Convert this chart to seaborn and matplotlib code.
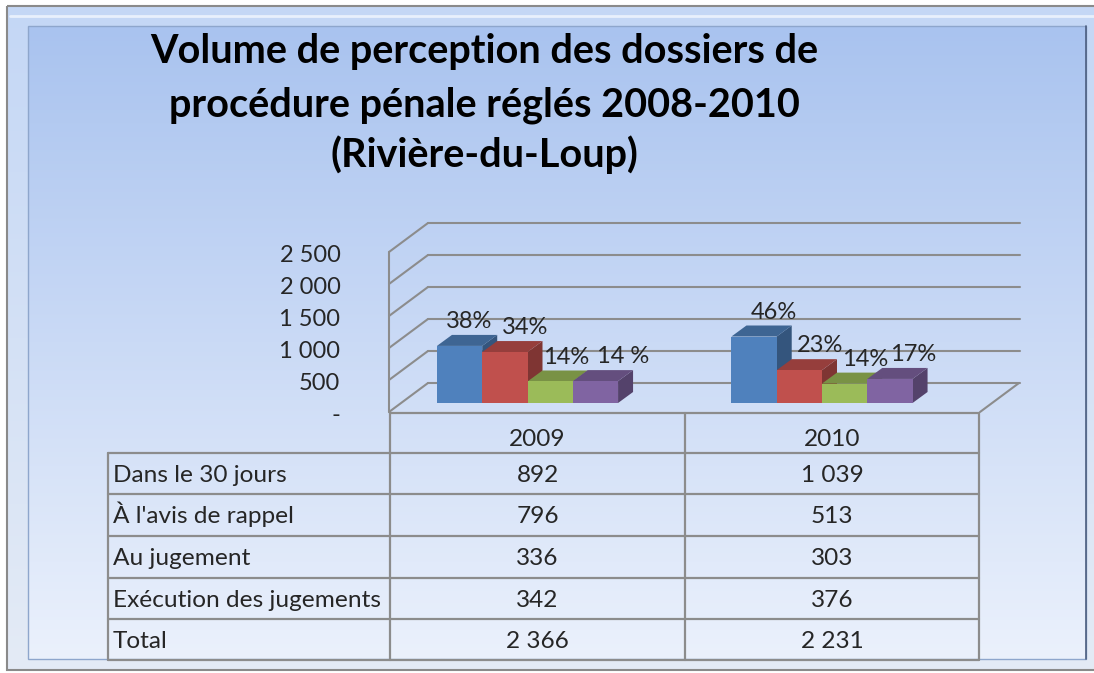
import numpy as np
import pandas as pd
import matplotlib
matplotlib.use("Agg")
import matplotlib.pyplot as plt
import matplotlib.transforms as mtrans
from matplotlib.patches import Polygon, Rectangle
import seaborn as sns

# Data
years = ["2009", "2010"]
categories = ["Dans le 30 jours", "À l'avis de rappel", "Au jugement", "Exécution des jugements"]
values_2009 = [892, 796, 336, 342]
values_2010 = [1039, 513, 303, 376]
totals = [2366, 2231]
pct_2009 = ["38%", "34%", "14%", "14 %"]
pct_2010 = ["46%", "23%", "14%", "17%"]
y_ticks = [0, 500, 1000, 1500, 2000, 2500]
title_lines = ["Volume de perception des dossiers de",
               "procédure pénale réglés 2008-2010",
               "(Rivière-du-Loup)"]
colors = ["#4F81BD", "#C0504D", "#9BBB59", "#8064A2"]

W, H = 1094, 673
sns.set_theme(style="white")
plt.rcParams["font.family"] = ["Lato", "DejaVu Sans"]

df = pd.DataFrame({
    "year": np.repeat(years, len(categories)),
    "category": categories * len(years),
    "value": values_2009 + values_2010,
})


def fmt(v):
    return "-" if v == 0 else f"{v:,}".replace(",", " ")


def px_box(x0, y0, x1, y1):
    return [x0 / W, 1 - y1 / H, (x1 - x0) / W, (y1 - y0) / H]


def shade(c, f):
    r, g, b = matplotlib.colors.to_rgb(c)
    return (r * f, g * f, b * f)


fig = plt.figure(figsize=(W / 100, H / 100), dpi=100)
fig.patch.set_facecolor("white")

# background in pixel coordinates
bg = fig.add_axes([0, 0, 1, 1])
bg.set_xlim(0, W)
bg.set_ylim(H, 0)
bg.axis("off")

def vgrad(top, bottom, n=256):
    t = np.linspace(0, 1, n)[:, None, None]
    a = np.array(matplotlib.colors.to_rgb(top))[None, None, :]
    b = np.array(matplotlib.colors.to_rgb(bottom))[None, None, :]
    return a * (1 - t) + b * t

# bevelled frame
bg.imshow(vgrad("#c4d7f6", "#e4ebf5"), extent=[7, 1110, 670, 6], aspect="auto", origin="upper", zorder=0)
bg.add_patch(Rectangle((7, 6), 1110, 664, fill=False, ec="#8a8a8a", lw=1.5, zorder=1))
bg.plot([10, 1100], [16, 16], color="#e8f0fc", lw=2, zorder=1)
# inner panel
bg.imshow(vgrad("#a9c3ef", "#ebf1fc"), extent=[28, 1086, 659, 26], aspect="auto", origin="upper", zorder=1)
bg.add_patch(Rectangle((28, 26), 1058, 633, fill=False, ec="#8ea6cc", lw=1, zorder=2))
bg.plot([1086, 1086], [26, 659], color="#4d5f80", lw=1.2, zorder=2)

for i, line in enumerate(title_lines):
    bg.text(484, [63, 116, 167][i], line, ha="center", va="baseline",
            fontsize=28.5, fontweight="bold", color="black", zorder=5)

# data table under the chart
grid_c = "#8c8c8c"
col_x = [108, 390, 685, 979]
row_y = [413, 453, 494, 536, 578, 619, 660]
for y in row_y[1:]:
    bg.plot([col_x[0], col_x[-1]], [y, y], color=grid_c, lw=1.6, zorder=5)
bg.plot([col_x[1], col_x[-1]], [row_y[0], row_y[0]], color=grid_c, lw=1.6, zorder=5)
bg.plot([col_x[0], col_x[0]], [row_y[1], row_y[-1]], color=grid_c, lw=1.6, zorder=5)
for x in col_x[1:]:
    bg.plot([x, x], [row_y[0], row_y[-1]], color=grid_c, lw=1.6, zorder=5)

tfs = 17.6
for j, yr in enumerate(years):
    cx = (col_x[j + 1] + col_x[j + 2]) / 2
    bg.text(cx, 446, yr, ha="center", va="baseline", fontsize=tfs, zorder=6)
rows = categories + ["Total"]
vals = [values_2009 + [totals[0]], values_2010 + [totals[1]]]
for i, name in enumerate(rows):
    base = row_y[i + 1] + 29
    bg.text(113, base, name, ha="left", va="baseline", fontsize=tfs, zorder=6)
    for j in range(len(years)):
        cx = (col_x[j + 1] + col_x[j + 2]) / 2
        bg.text(cx, base, fmt(vals[j][i]), ha="center", va="baseline", fontsize=tfs, zorder=6)

# 3D-looking bar chart: front plane of bars, 500 units = 32 px
ax = fig.add_axes(px_box(389, 243, 1020, 403))
ax.set_facecolor("none")
sns.barplot(data=df, x="year", y="value", hue="category", hue_order=categories,
            palette=colors, saturation=1, width=0.615, linewidth=0,
            legend=False, ax=ax)
x_lo, x_hi = -(527.5 - 389) / 294.5, (1020 - 527.5) / 294.5
ax.set_xlim(x_lo, x_hi)
ax.set_ylim(0, 2500)
kx = 1 / 294.5          # data units per pixel
ky = 2500 / 160

# walls and gridlines
wall_c = "#8c8c8c"
for v in y_ticks:
    ax.plot([x_lo + 39 * kx, x_hi], [v + 20 * ky] * 2, color=wall_c, lw=1.5, clip_on=False, zorder=1)
    ax.plot([x_lo, x_lo + 39 * kx], [v - 9 * ky, v + 20 * ky], color=wall_c, lw=1.5, clip_on=False, zorder=1)
ax.plot([x_lo, x_lo], [-9 * ky, 2500 - 9 * ky], color=wall_c, lw=1.5, clip_on=False, zorder=1)
fr = x_lo + 591 * kx
ax.plot([fr, fr + 39 * kx], [-9 * ky, 20 * ky], color=wall_c, lw=1.5, clip_on=False, zorder=1)

# depth faces
ddx, ddy = 15 * kx, 11 * ky
bars = sorted(ax.patches, key=lambda p: p.get_x())
for i, p in enumerate(bars):
    x, w, h = p.get_x(), p.get_width(), p.get_height()
    c = p.get_facecolor()
    p.set_zorder(11 + 2 * i)
    ax.add_patch(Polygon([(x + w, 0), (x + w + ddx, ddy), (x + w + ddx, h + ddy), (x + w, h)],
                         closed=True, fc=shade(c, 0.66), ec="none", zorder=10 + 2 * i, clip_on=False))
    ax.add_patch(Polygon([(x, h), (x + w, h), (x + w + ddx, h + ddy), (x + ddx, h + ddy)],
                         closed=True, fc=shade(c, 0.78), ec="none", zorder=10 + 2 * i, clip_on=False))
    p.set_clip_on(False)

# percentage labels (Excel nudges a couple of them sideways to avoid overlap)
pct = {("2009", c): s for c, s in zip(categories, pct_2009)}
pct.update({("2010", c): s for c, s in zip(categories, pct_2010)})
order = sorted([(yr, c) for yr in years for c in categories],
               key=lambda k: (years.index(k[0]), categories.index(k[1])))
nudge_px = [-10, 1, -3, 5, 0, 1, 1, 4]
for (yr, c), p, nx in zip(order, bars, nudge_px):
    x, w, h = p.get_x(), p.get_width(), p.get_height()
    ax.annotate(pct[(yr, c)], xy=(x, h + ddy), xytext=((19 + nx) * 0.72, 9.5),
                textcoords="offset points", ha="left", va="center",
                fontsize=17, zorder=40, annotation_clip=False)

# value axis labels on the left
ax.set_yticks(y_ticks)
ax.set_yticklabels([fmt(v) for v in y_ticks], fontsize=17)
ax.tick_params(axis="y", length=0, pad=35)
shift = mtrans.ScaledTranslation(0, -10 / 100, fig.dpi_scale_trans)
for lab in ax.get_yticklabels():
    lab.set_transform(lab.get_transform() + shift)
ax.set_xticks([])
ax.set_xlabel("")
ax.set_ylabel("")
sns.despine(ax=ax, left=True, bottom=True)

fig.savefig("out.png", dpi=100)
